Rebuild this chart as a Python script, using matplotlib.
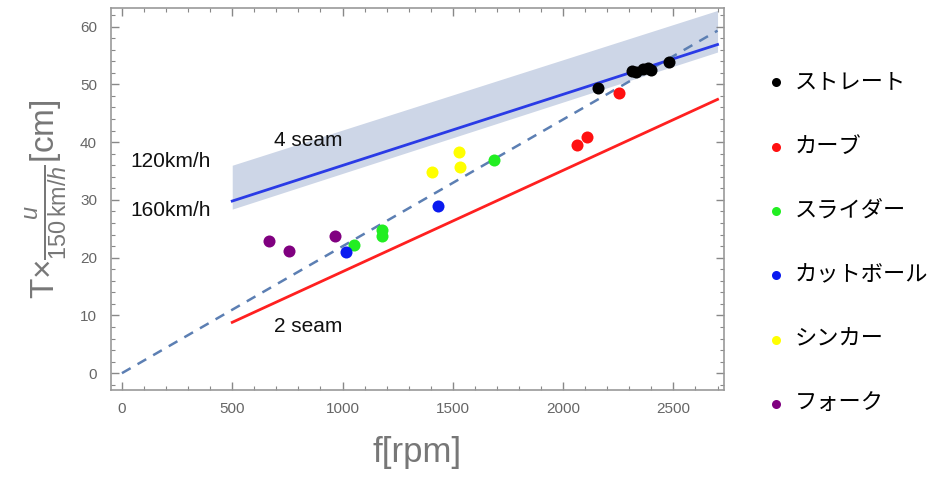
import matplotlib
matplotlib.use("Agg")
import matplotlib.pyplot as plt
import numpy as np
from matplotlib.ticker import MultipleLocator

plt.rcParams['font.family'] = ['Liberation Sans', 'Noto Sans CJK JP', 'DejaVu Sans']
plt.rcParams['mathtext.fontset'] = 'custom'
plt.rcParams['mathtext.rm'] = 'Liberation Sans'
plt.rcParams['mathtext.it'] = 'Liberation Sans:italic'

# data
pitch_names = ["ストレート", "カーブ", "スライダー", "カットボール", "シンカー", "フォーク"]
pitch_colors = ["#000000", "#ff1010", "#22ee22", "#0a1af0", "#ffff00", "#800080"]

straight_f = [2160, 2310, 2330, 2360, 2385, 2400, 2480]
straight_y = [49.3, 52.3, 52.2, 52.6, 52.8, 52.5, 53.8]
curve_f = [2252, 2061, 2108]
curve_y = [48.5, 39.5, 40.9]
slider_f = [1052, 1177, 1177, 1688]
slider_y = [22.2, 24.8, 23.8, 36.9]
cutter_f = [1015, 1433]
cutter_y = [21.0, 29.0]
sinker_f = [1406, 1527, 1531]
sinker_y = [34.9, 38.3, 35.7]
fork_f = [668, 759, 967]
fork_y = [22.8, 21.1, 23.8]

series_f = [straight_f, curve_f, slider_f, cutter_f, sinker_f, fork_f]
series_y = [straight_y, curve_y, slider_y, cutter_y, sinker_y, fork_y]

# model lines (endpoints)
line_f = [500, 2700]
four_seam = [29.8, 56.9]
band_upper = [36.0, 62.8]
band_lower = [28.4, 55.6]
two_seam = [8.8, 47.4]
diag_f = [0, 2700]
diag_y = [0, 59.3]

xticks = [0, 500, 1000, 1500, 2000, 2500]
yticks = [0, 10, 20, 30, 40, 50, 60]

fig = plt.figure(figsize=(9.32, 4.79), dpi=100)
ax = fig.add_axes([0.119, 0.186, 0.658, 0.797])

ax.fill_between(line_f, band_lower, band_upper, color="#cdd6e7", lw=0, zorder=1)
ax.plot(diag_f, diag_y, ls=(0, (4, 3.2)), color="#5c7fb3", lw=1.8, zorder=2)
ax.plot(line_f, four_seam, color="#2a3be6", lw=2, zorder=3)
ax.plot(line_f, two_seam, color="#ff2020", lw=2, zorder=3)

for f, y, c, name in zip(series_f, series_y, pitch_colors, pitch_names):
    ax.scatter(f, y, s=75, color=c, lw=0, zorder=4, label=name)

fs_txt = 15
ax.text(845, 40.3, "4 seam", fontsize=fs_txt, ha="center", va="center", color="#111111")
ax.text(845, 8.0, "2 seam", fontsize=fs_txt, ha="center", va="center", color="#111111")
ax.text(220, 36.6, "120km/h", fontsize=fs_txt, ha="center", va="center", color="#111111")
ax.text(220, 28.1, "160km/h", fontsize=fs_txt, ha="center", va="center", color="#111111")

ax.set_xlim(-50, 2730)
ax.set_ylim(-2.9, 63.2)
ax.set_xticks(xticks)
ax.set_yticks(yticks)
ax.xaxis.set_minor_locator(MultipleLocator(100))
ax.yaxis.set_minor_locator(MultipleLocator(2))
ax.tick_params(which="both", direction="in", top=True, right=True, color="#888888",
               labelcolor="#666666", labelsize=11)
ax.tick_params(which="major", length=6, width=1)
ax.tick_params(which="minor", length=3, width=0.8)
ax.tick_params(axis="x", pad=9)
ax.tick_params(axis="y", pad=10)
for s in ax.spines.values():
    s.set_color("#999999")
    s.set_linewidth(1.2)

ax.set_xlabel("f[rpm]", fontsize=25, color="#777777", labelpad=14)
ax.set_ylabel(r"T$\times\frac{u}{150\,\mathrm{km}/h}$[cm]", fontsize=24, color="#777777", labelpad=8)

handles, labels = ax.get_legend_handles_labels()
leg = fig.legend(handles, labels, loc="upper left", bbox_to_anchor=(0.798, 0.895),
                 frameon=False, markerscale=0.75, labelspacing=1.86,
                 handletextpad=0.3, handlelength=1.1, prop={'family': ['Noto Sans CJK JP'], 'size': 16})

fig.savefig("out.png", dpi=100)
